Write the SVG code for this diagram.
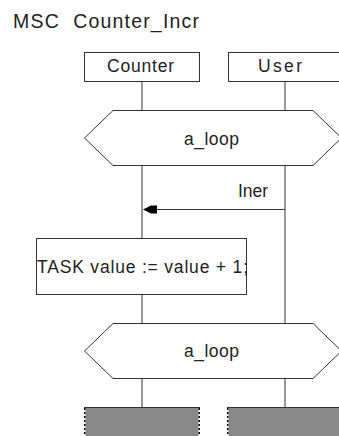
<svg xmlns="http://www.w3.org/2000/svg" width="339" height="436" viewBox="0 0 339 436">
<style>
text{font-family:"Liberation Sans",Arial,sans-serif;font-size:17.5px;fill:#222}
.box{fill:#fff;stroke:#333;stroke-width:1}
.life{stroke:#333;stroke-width:1;fill:none}
.endbox{fill:#888;stroke:none}
.endtop{stroke:#333;stroke-width:1}
.endside{stroke:#fff;stroke-width:1.5}
.enddot{stroke:#000;stroke-width:1.5;stroke-dasharray:2 2}
</style>
<rect width="339" height="436" fill="#fff"/>
<g id="title"><text x="13" y="28" style="font-size:19.5px" textLength="186" lengthAdjust="spacing">MSC&#160; Counter_Incr</text></g>
<g id="connectors">
<line class="life" x1="142" y1="81" x2="142" y2="408"/>
<line class="life" x1="285" y1="81" x2="285" y2="408"/>
<g id="msg-iner">
<line class="life" x1="285" y1="209.5" x2="150" y2="209.5"/>
<polygon points="143,209.5 151,205.5 157,205.5 157,213.5 151,213.5" fill="#000"/>
<text x="238" y="197" textLength="30" lengthAdjust="spacing">Iner</text>
</g>
</g>
<g id="node-counter"><rect class="box" x="84.5" y="52.5" width="115" height="29"/><text x="107" y="72" textLength="67" lengthAdjust="spacing">Counter</text></g>
<g id="node-user"><rect class="box" x="228.5" y="52.5" width="115" height="29"/><text x="258" y="72" textLength="44" lengthAdjust="spacing">User</text></g>
<g id="loop1"><polygon class="box" points="84.5,138 113,110.5 313,110.5 341.5,138 313,165.5 113,165.5"/><text x="184" y="145" textLength="55" lengthAdjust="spacing">a_loop</text></g>
<g id="task"><rect class="box" x="36.5" y="238.5" width="210" height="56"/><text x="37" y="273" textLength="211" lengthAdjust="spacing">TASK value := value + 1;</text></g>
<g id="loop2"><polygon class="box" points="84.5,351 113,323.5 313,323.5 341.5,351 313,378.5 113,378.5"/><text x="184" y="357" textLength="55" lengthAdjust="spacing">a_loop</text></g>
<g id="end-counter">
<rect class="endbox" x="84" y="408" width="116" height="28"/>
<line class="endtop" x1="84" y1="407.5" x2="200" y2="407.5"/>
<line class="endside" x1="84.75" y1="408" x2="84.75" y2="436"/>
<line class="enddot" x1="84.75" y1="408" x2="84.75" y2="436"/>
<line class="endside" x1="199.25" y1="408" x2="199.25" y2="436"/>
<line class="enddot" x1="199.25" y1="408" x2="199.25" y2="436"/>
</g>
<g id="end-user">
<rect class="endbox" x="227" y="408" width="116" height="28"/>
<line class="endtop" x1="227" y1="407.5" x2="343" y2="407.5"/>
<line class="endside" x1="227.75" y1="408" x2="227.75" y2="436"/>
<line class="enddot" x1="227.75" y1="408" x2="227.75" y2="436"/>
</g>
</svg>
